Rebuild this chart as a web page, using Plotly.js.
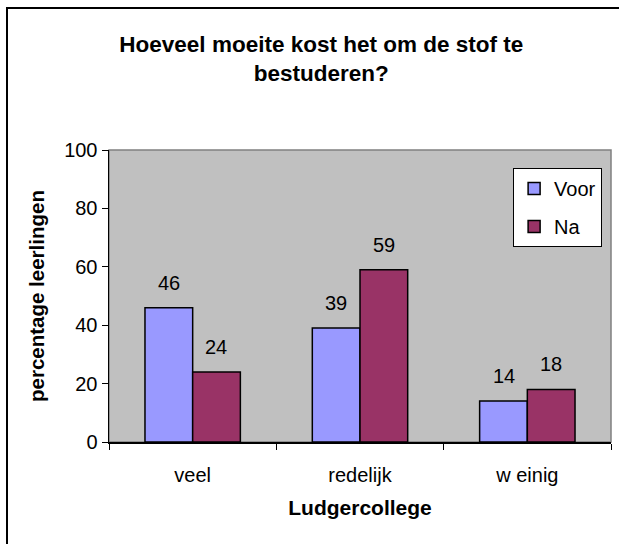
<!DOCTYPE html>
<html>
<head>
<meta charset="utf-8">
<script src="https://cdn.plot.ly/plotly-3.0.1.min.js"></script>
<style>
  html, body { margin: 0; padding: 0; background: #ffffff; overflow: hidden; }
  #frame { position: absolute; left: 6px; top: 7px; width: 700px; height: 700px;
           border-left: 2px solid #000; border-top: 2px solid #000; box-sizing: border-box; }
  #chart { position: absolute; left: 0; top: 0; width: 619px; height: 544px; }
</style>
</head>
<body>
<div id="frame"></div>
<div id="chart"></div>
<script>
const categories = ["veel", "redelijk", "w einig"];
const seriesNames = ["Voor", "Na"];
const voorValues = [46, 39, 14];
const naValues = [24, 59, 18];
const yTickValues = [0, 20, 40, 60, 80, 100];

const FONT = "Arial, 'Liberation Sans', sans-serif";
const colors = ["#9999FF", "#993366"];
const seriesValues = [voorValues, naValues];

const traces = seriesValues.map((vals, i) => ({
  type: "bar",
  name: seriesNames[i],
  legendgroup: "g" + i,
  x: categories,
  y: vals,
  marker: { color: colors[i], line: { color: "#000000", width: 1.5 } },
  hoverinfo: "skip"
}));

const barShift = 23.8;
const annotations = [];
seriesValues.forEach((vals, i) => {
  vals.forEach((v, j) => {
    annotations.push({
      x: categories[j], y: v, xref: "x", yref: "y",
      text: String(v), showarrow: false,
      xshift: i === 0 ? -barShift : barShift,
      yshift: 25, yanchor: "middle",
      font: { family: FONT, size: 20, color: "#000" }
    });
  });
});

const layout = {
  width: 619, height: 544,
  margin: { l: 109, r: 8, t: 150, b: 102 },
  paper_bgcolor: "rgba(0,0,0,0)",
  plot_bgcolor: "#C0C0C0",
  font: { family: FONT, size: 20, color: "#000" },
  title: {
    text: "<b>Hoeveel moeite kost het om de stof te<br>bestuderen?</b>",
    font: { family: FONT, size: 22.5, color: "#000" },
    xref: "container", yref: "container",
    x: 0.519, xanchor: "center",
    y: 1 - 51.5 / 544, yanchor: "middle"
  },
  barmode: "group",
  bargap: 0.43,
  bargroupgap: 0,
  xaxis: {
    type: "category",
    showline: true, linecolor: "#000", linewidth: 1.5,
    ticks: "outside", tickson: "boundaries", ticklen: 6, tickcolor: "#000", tickwidth: 1,
    ticklabelstandoff: 14,
    tickfont: { family: FONT, size: 20, color: "#000" },
    showgrid: false, zeroline: false, fixedrange: true,
    title: { text: "<b>Ludgercollege</b>", font: { family: FONT, size: 21, color: "#000" }, standoff: 16 }
  },
  yaxis: {
    range: [0, 100],
    tickvals: yTickValues,
    ticktext: yTickValues.map(String),
    showline: true, linecolor: "#000", linewidth: 1.5,
    ticks: "outside", ticklen: 6, tickcolor: "#000", tickwidth: 1,
    tickfont: { family: FONT, size: 20, color: "#000" },
    showgrid: false, zeroline: false, fixedrange: true,
    title: { text: "<b>percentage leerlingen</b>", font: { family: FONT, size: 20.5, color: "#000" }, standoff: 14 }
  },
  showlegend: true,
  legend: {
    x: 0.805, y: 0.938, xanchor: "left", yanchor: "top",
    bgcolor: "#FFFFFF", bordercolor: "#000", borderwidth: 1,
    font: { family: FONT, size: 20, color: "#000" },
    traceorder: "grouped", tracegroupgap: 9
  },
  shapes: [{
    type: "rect", xref: "paper", yref: "paper", x0: 0, x1: 1, y0: 0, y1: 1,
    line: { color: "#808080", width: 1.5 }, layer: "below"
  }],
  annotations: annotations
};

Plotly.newPlot("chart", traces, layout, { displayModeBar: false, staticPlot: true });
</script>
</body>
</html>
